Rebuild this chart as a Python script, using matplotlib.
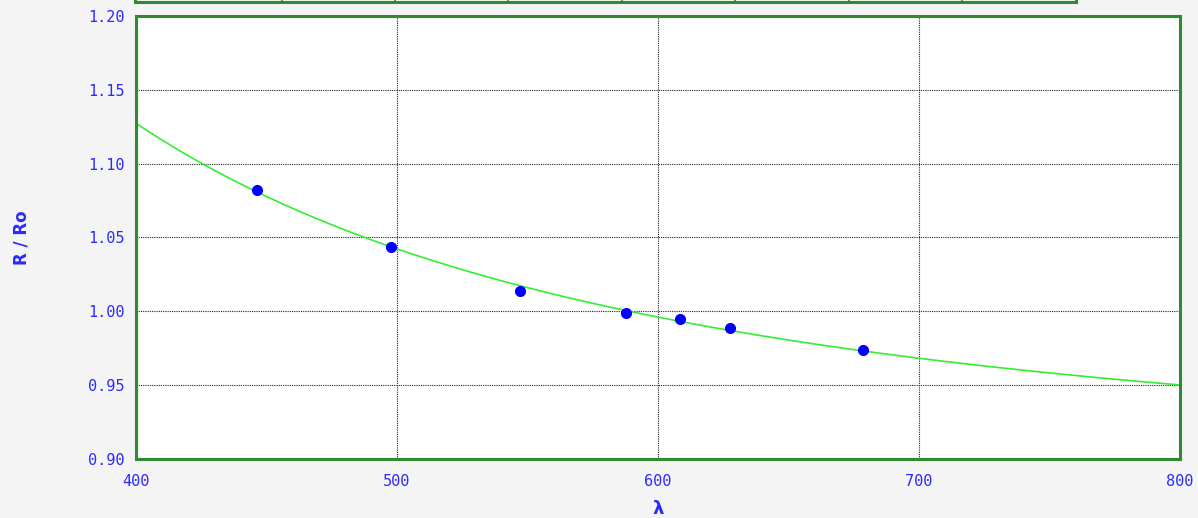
import numpy as np
import matplotlib
matplotlib.use("Agg")
import matplotlib.pyplot as plt
from matplotlib.lines import Line2D

# measured points (wavelength nm, R/Ro)
wavelength = [446.4, 497.7, 547.1, 587.7, 608.4, 627.6, 678.5]
ratio = [1.0822, 1.0436, 1.0138, 0.9989, 0.9948, 0.9887, 0.9738]

x_ticks = [400, 500, 600, 700, 800]
y_ticks = [0.90, 0.95, 1.00, 1.05, 1.10, 1.15, 1.20]

# dividers of the panel cut off above the chart (pixel x)
strip_edges = [135, 282, 395, 508, 622, 735, 849, 962, 1076]

BLUE = "#2a2aff"
GREEN = "#2e8b2e"
W, H = 1198, 518

fig = plt.figure(figsize=(W / 100, H / 100), dpi=100, facecolor="#f4f4f4")
ax = fig.add_axes([136 / W, 1 - 459 / H, (1180 - 136) / W, (459 - 16) / H])
ax.set_facecolor("white")

# Cauchy-type fit R/Ro = a + b / lambda^2
b, a = np.polyfit(1 / np.array(wavelength) ** 2, ratio, 1)
lam = np.linspace(400, 800, 400)
ax.plot(lam, a + b / lam ** 2, color="#33ee33", lw=1.2, zorder=2)
ax.plot(wavelength, ratio, "o", color="#0000ff", ms=7, zorder=3)

ax.set_xlim(400, 800)
ax.set_ylim(0.90, 1.20)
ax.set_xticks(x_ticks)
ax.set_yticks(y_ticks)
ax.set_xticklabels([str(t) for t in x_ticks])
ax.set_yticklabels(["%.2f" % t for t in y_ticks])
ax.tick_params(length=0, colors=BLUE, labelsize=11)
ax.tick_params(axis="x", pad=11)
ax.tick_params(axis="y", pad=8)
for lbl in ax.get_xticklabels() + ax.get_yticklabels():
    lbl.set_family("DejaVu Sans Mono")
ax.grid(True, color="#222222", ls=(0, (1, 1)), lw=0.8)
for s in ax.spines.values():
    s.set_color(GREEN)
    s.set_linewidth(2.2)

ax.set_xlabel("λ", color=BLUE, fontsize=13, fontweight="bold", labelpad=8)
ax.set_ylabel("R / Ro", color=BLUE, fontsize=12, fontweight="bold")
ax.yaxis.set_label_coords((31 - 136) / (1180 - 136), 0.5)

# remains of the panel above
yb = 1 - 2 / H
fig.add_artist(Line2D([strip_edges[0] / W, strip_edges[-1] / W], [yb, yb],
                      color=GREEN, lw=2.2))
for e in strip_edges:
    fig.add_artist(Line2D([e / W, e / W], [yb, 1.0], color=GREEN, lw=2.2 if e in (135, 1076) else 1.2))

fig.savefig("out.png", dpi=100, facecolor=fig.get_facecolor())
